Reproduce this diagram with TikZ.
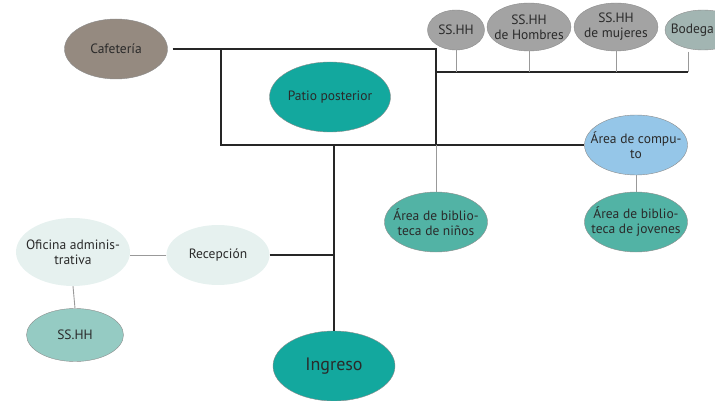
\documentclass[tikz,border=0pt]{standalone}
\usepackage{fontspec}
\setmainfont{PT Sans}
\usetikzlibrary{shapes.geometric}
\definecolor{cafegray}{HTML}{958A80}
\definecolor{tealdark}{HTML}{13A89E}
\definecolor{tealmid}{HTML}{52B3A5}
\definecolor{tealpale}{HTML}{95CBC3}
\definecolor{roomgray}{HTML}{A3A3A3}
\definecolor{bodgray}{HTML}{A2B5B2}
\definecolor{skyblue}{HTML}{95C6E8}
\definecolor{palemint}{HTML}{E6F1EF}
\definecolor{inkgray}{HTML}{2A2A2A}
\begin{document}
\begin{tikzpicture}[x=1pt,y=-1pt,
  room/.style={ellipse,draw=black!45,line width=0.4pt,inner sep=0pt},
  roomtxt/.style={align=center,text=inkgray,inner sep=0pt,
    font=\fontsize{13.5}{15}\selectfont},
  trunk/.style={line width=1.6pt,black!85},
  twig/.style={line width=0.9pt,black!40}]
\useasboundingbox (0,0) rectangle (715,401);
\begin{scope}
\clip (0,0) rectangle (715,401);
% espacios
\node[room,fill=cafegray,minimum width=103pt,minimum height=60pt,
  label={[roomtxt]center:Cafetería}] (cafe) at (116,49) {};
\node[room,fill=tealdark,minimum width=121pt,minimum height=70pt,
  label={[roomtxt]center:Patio posterior}] (patio) at (330,97) {};
\node[room,fill=roomgray,minimum width=57pt,minimum height=40pt,
  label={[roomtxt]center:SS.HH}] (ssa) at (456,30) {};
\node[room,fill=roomgray,minimum width=84pt,minimum height=48pt,
  label={[roomtxt]center:SS.HH\\de Hombres}] (ssh) at (529,27) {};
\node[room,fill=roomgray,minimum width=84pt,minimum height=48pt,
  label={[roomtxt]center:SS.HH\\de mujeres}] (ssm) at (616,27) {};
\node[room,fill=bodgray,minimum width=76pt,minimum height=40pt] (bod) at (703,30) {};
\node[roomtxt,anchor=east] (bodtxt) at (714,30) {Bodega};
\node[room,fill=skyblue,minimum width=103pt,minimum height=60pt,
  label={[roomtxt]center:Área de compu-\\to}] (comp) at (636,145) {};
\node[room,fill=tealmid,minimum width=103pt,minimum height=60pt,
  label={[roomtxt]center:Área de biblio-\\teca de jovenes}] (jov) at (636,222) {};
\node[room,fill=tealmid,minimum width=103pt,minimum height=60pt,
  label={[roomtxt]center:Área de biblio-\\teca de niños}] (nin) at (436,222) {};
\node[room,fill=palemint,draw=none,minimum width=114pt,minimum height=68pt,
  label={[roomtxt]center:Oficina adminis-\\trativa}] (ofi) at (73,252) {};
\node[room,fill=palemint,draw=none,minimum width=103pt,minimum height=60pt,
  label={[roomtxt]center:Recepción}] (rec) at (218,255) {};
\node[room,fill=tealpale,minimum width=97pt,minimum height=53pt,
  label={[roomtxt]center:SS.HH}] (ssb) at (75,335) {};
\node[room,fill=tealdark,minimum width=122pt,minimum height=70pt,
  label={[roomtxt,font=\fontsize{18}{20}\selectfont]center:Ingreso}] (ing) at (334,366) {};

% esquinas del recorrido
\coordinate (tl) at (221,49);
\coordinate (tr) at (436,49);
\coordinate (bl) at (221,145);
\coordinate (br) at (436,145);
\coordinate (mid) at (334,145);
\coordinate (hub) at (436,72);
\coordinate (hubend) at (688,72);
\coordinate (recj) at (334,255);

% recorrido principal
\draw[trunk,shorten <=5pt] (cafe.east) -- (tr) -- (br);
\draw[trunk] (tl) -- (bl) -- (comp.west);
\draw[trunk] (hub) -- (hubend);
\draw[trunk] (mid) -- (ing.north);
\draw[trunk] (rec.east) -- (recj);

% ramales
\draw[twig] (br) -- (nin.north);
\draw[twig] (ssa.south) -- (ssa.south |- hub);
\draw[twig] (ssh.south) -- (ssh.south |- hub);
\draw[twig] (ssm.south) -- (ssm.south |- hub);
\draw[twig,shorten <=1.5pt] (hubend |- bod.south) -- (hubend);
\draw[twig] (comp.south) -- (jov.north);
\draw[twig] (rec.west) -- (rec.west -| ofi.east);
\draw[twig] (ofi.south) -- (ssb.north);
\end{scope}
\end{tikzpicture}
\end{document}
